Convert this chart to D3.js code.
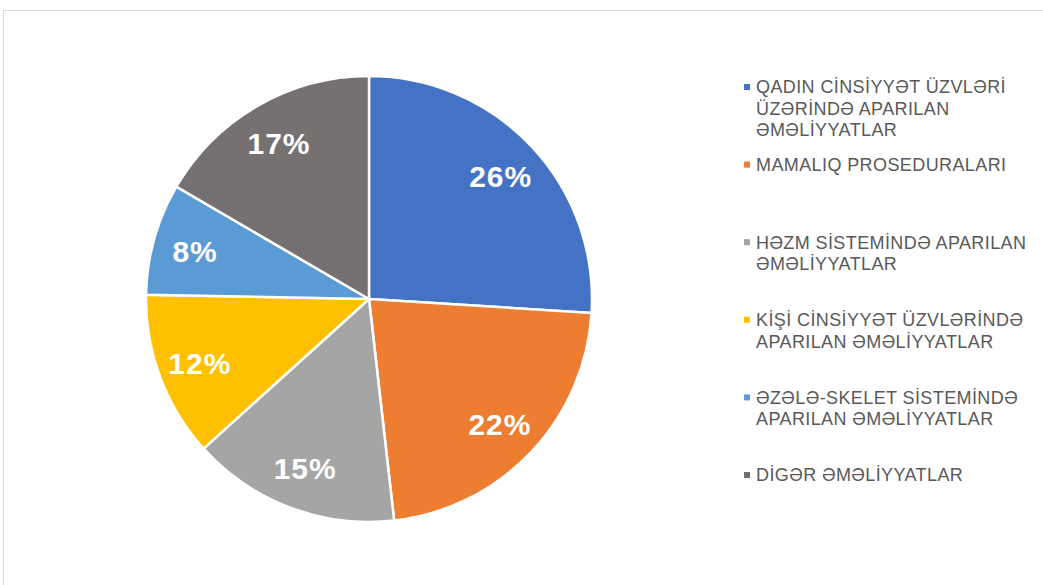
<!DOCTYPE html>
<html>
<head>
<meta charset="utf-8">
<script src="https://cdn.jsdelivr.net/npm/d3@7"></script>
<style>
  body { margin: 0; background: #fff; }
  svg { display: block; }
</style>
</head>
<body>
<svg id="chart"></svg>
<script>
// data
const categories = [
    ['QADIN CİNSİYYƏT ÜZVLƏRİ', 'ÜZƏRİNDƏ APARILAN', 'ƏMƏLİYYATLAR'],
    ['MAMALIQ PROSEDURALARI'],
    ['HƏZM SİSTEMİNDƏ APARILAN', 'ƏMƏLİYYATLAR'],
    ['KİŞİ CİNSİYYƏT ÜZVLƏRİNDƏ', 'APARILAN ƏMƏLİYYATLAR'],
    ['ƏZƏLƏ-SKELET SİSTEMİNDƏ', 'APARILAN ƏMƏLİYYATLAR'],
    ['DİGƏR ƏMƏLİYYATLAR']
]
const values = [26.0, 22.2, 15.1, 12.0, 8.1, 16.6]
const colors = ['#4472C4', '#ED7D31', '#A5A5A5', '#FFC000', '#5B9BD5', '#767171']

const width = 1043, height = 585
const cx = 369, cy = 299, r = 223

const svg = d3.select('#chart')
    .attr('width', width)
    .attr('height', height)

// chart area frame (runs off the right and bottom edges)
svg.append('rect')
    .attr('x', 3.5).attr('y', 10.5)
    .attr('width', width + 20).attr('height', height + 20)
    .attr('fill', 'none')
    .attr('stroke', '#d9d9d9')
    .attr('stroke-width', 1)

const total = d3.sum(values)
const pie = d3.pie().sort(null).value(d => d)
const arcs = pie(values)

const arc = d3.arc().innerRadius(0).outerRadius(r)
const labelArc = d3.arc().innerRadius(r * 0.81).outerRadius(r * 0.81)

const g = svg.append('g').attr('transform', 'translate(' + cx + ',' + cy + ')')

g.selectAll('path.slice')
    .data(arcs)
    .enter().append('path')
    .attr('class', 'slice')
    .attr('d', arc)
    .attr('fill', (d, i) => colors[i])
    .attr('stroke', '#fff')
    .attr('stroke-width', 2.5)
    .attr('stroke-linejoin', 'round')

g.selectAll('text.pct')
    .data(arcs)
    .enter().append('text')
    .attr('class', 'pct')
    .attr('transform', d => 'translate(' + labelArc.centroid(d) + ')')
    .attr('text-anchor', 'middle')
    .attr('dy', '0.38em')
    .attr('fill', '#fff')
    .style('font-family', 'Liberation Sans, Arial, sans-serif')
    .style('font-weight', 'bold')
    .style('font-size', '30px')
    .style('letter-spacing', '1px')
    .text(d => Math.round(d.value / total * 100) + '%')

// legend
const legendX = 744, legendY = 87, legendStep = 77.6, lineH = 21.5

const legend = svg.append('g')
const item = legend.selectAll('g.item')
    .data(categories)
    .enter().append('g')
    .attr('class', 'item')
    .attr('transform', (d, i) => 'translate(' + legendX + ',' + (legendY + i * legendStep) + ')')

item.append('rect')
    .attr('x', 0).attr('y', -3)
    .attr('width', 6).attr('height', 6)
    .attr('fill', (d, i) => colors[i])

item.append('text')
    .attr('x', 12)
    .attr('fill', '#595959')
    .style('font-family', 'Liberation Sans, Arial, sans-serif')
    .style('font-size', '18px')
    .style('letter-spacing', '0.4px')
    .selectAll('tspan')
    .data(d => d)
    .enter().append('tspan')
    .attr('x', 12)
    .attr('y', (d, j) => j * lineH)
    .attr('dy', '0.36em')
    .text(d => d)
</script>
</body>
</html>
